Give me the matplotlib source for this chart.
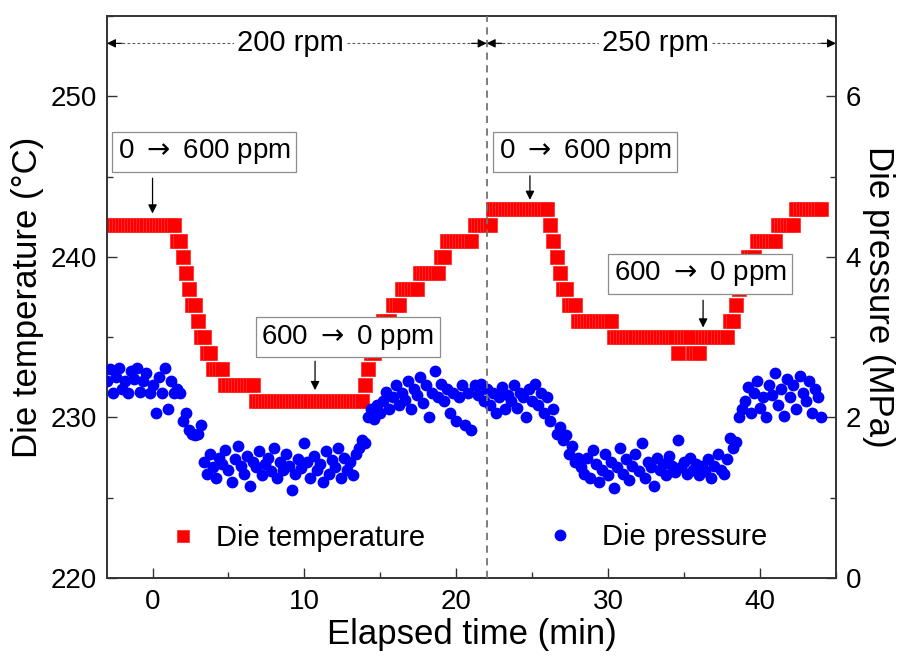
import matplotlib.pyplot as plt
import numpy as np
from matplotlib.ticker import MultipleLocator

plt.rcParams['font.family'] = ['Liberation Sans', 'DejaVu Sans']

# logger sampling time (min)
time_min = np.round(np.arange(-3.0, 44.01, 0.2), 1)

# die temperature, stored as plateaus: level (degC) and number of samples
temp_levels = [242, 241, 240, 239, 238, 237, 236, 235, 234, 233, 232, 231,
               232, 233, 234, 235, 236, 237, 238, 239, 240, 241, 242, 243,
               242, 241, 240, 239, 238, 237, 236, 235, 234, 235, 234, 235,
               236, 237, 238, 239, 240, 241, 242, 243]
temp_counts = [23, 2, 1, 1, 1, 2, 1, 2, 2, 4, 10, 36,
               1, 1, 2, 2, 3, 3, 6, 7, 2, 9, 6, 19,
               1, 1, 1, 1, 2, 3, 12, 21, 1, 4, 3, 9,
               2, 1, 1, 2, 3, 7, 6, 9]

# die pressure (MPa), one value per sample
pressure = [
    2.45, 2.60, 2.30, 2.50, 2.62, 2.35, 2.45, 2.30, 2.58, 2.48, 2.62, 2.32, 2.45, 2.55, 2.30, 2.40,
    2.05, 2.50, 2.30, 2.62, 2.10, 2.45, 2.30, 2.35, 2.30,
    1.95, 2.05, 1.85, 1.80, 1.78, 1.80, 1.90,
    1.45, 1.30, 1.55, 1.38, 1.25, 1.50, 1.42, 1.60, 1.35, 1.20,
    1.48, 1.65, 1.40, 1.30, 1.52, 1.15, 1.45, 1.38, 1.58, 1.28,
    1.42, 1.50, 1.33, 1.62, 1.25, 1.45, 1.35, 1.55, 1.40, 1.10,
    1.30, 1.48, 1.37, 1.68, 1.45, 1.25, 1.52, 1.35, 1.42, 1.20,
    1.58, 1.30, 1.47, 1.38, 1.62, 1.25, 1.50, 1.35, 1.44, 1.28,
    1.55, 1.62, 1.72, 1.68,
    2.00, 2.10, 1.98, 2.15, 2.05,
    2.20, 2.32, 2.10, 2.25, 2.40, 2.15, 2.30, 2.22, 2.45, 2.10,
    2.35, 2.28, 2.50, 2.18, 2.40, 2.00, 2.30, 2.58, 2.25, 2.42,
    2.20, 2.35, 2.05, 2.30, 1.95, 2.25, 2.40, 1.90, 2.30, 1.85,
    2.40, 2.28, 2.42, 2.20, 2.35, 2.15, 2.30, 2.05, 2.25, 2.38,
    2.10, 2.28, 2.20, 2.40, 2.12, 2.30, 2.25, 2.00, 2.35, 2.20,
    2.42, 2.15, 2.30, 2.05, 2.25,
    1.95, 2.10, 1.80, 1.88, 1.72, 1.78, 1.55, 1.65, 1.45, 1.50,
    1.38, 1.30, 1.50, 1.25, 1.60, 1.42, 1.20, 1.35, 1.55, 1.28,
    1.45, 1.12, 1.38, 1.62, 1.30, 1.48, 1.22, 1.40, 1.55, 1.33,
    1.68, 1.25, 1.45, 1.38, 1.15, 1.50, 1.35, 1.42, 1.28, 1.52,
    1.40, 1.32, 1.72, 1.38, 1.45, 1.30, 1.50, 1.35, 1.42, 1.28,
    1.40, 1.33, 1.48, 1.25, 1.40, 1.55, 1.35, 1.30, 1.48,
    1.75, 1.62, 1.70, 2.00, 2.10,
    2.20, 2.38, 2.05, 2.30, 2.45, 2.12, 2.25, 2.00, 2.40, 2.28,
    2.55, 2.15, 2.35, 2.02, 2.48, 2.25, 2.40, 2.10, 2.52, 2.30,
    2.20, 2.45, 2.05, 2.35, 2.25, 2.00,
]

rpm_change = 22.0
rpm_labels = ['200 rpm', '250 rpm']

temperature = np.repeat(temp_levels, temp_counts)

fig = plt.figure(figsize=(9.02, 6.57), dpi=100)
ax = fig.add_axes([0.1186, 0.1202, 0.8082, 0.8554])
ax2 = ax.twinx()

h1, = ax.plot(time_min, temperature, 's', color='red', ms=10, mec='#ff3030', mew=0.6,
              label='Die temperature', zorder=3)
h2, = ax2.plot(time_min, pressure, 'o', color='blue', ms=8.5, mec='blue', mew=0,
               label='Die pressure', zorder=3)

ax.set_xlim(-3, 45)
ax.set_ylim(220, 255)
ax2.set_ylim(0, 7)
ax.set_xticks([0, 10, 20, 30, 40])
ax.xaxis.set_minor_locator(MultipleLocator(5))
ax.set_yticks([220, 230, 240, 250])
ax.yaxis.set_minor_locator(MultipleLocator(5))
ax2.set_yticks([0, 2, 4, 6])
ax2.yaxis.set_minor_locator(MultipleLocator(1))

for a in (ax, ax2):
    a.tick_params(which='both', direction='in', labelsize=20, color='#333333', width=1.0, pad=7)
    a.tick_params(which='major', length=7)
    a.tick_params(which='minor', length=4)
    for s in a.spines.values():
        s.set_color('#333333')
        s.set_linewidth(1.2)
ax.tick_params(axis='x', pad=8)

ax.set_xlabel('Elapsed time (min)', fontsize=25, labelpad=2)
ax.set_ylabel('Die temperature (\u00b0C)', fontsize=25, labelpad=5)
ax2.set_ylabel('Die pressure (MPa)', fontsize=25, rotation=-90, labelpad=24)

# rpm change
ax2.axvline(rpm_change, color='0.45', ls=(0, (4, 3)), lw=1.3, zorder=5)

# rpm spans at the top
y_top = 253.3
spans = [(-3, rpm_change), (rpm_change, 45)]
for (x0, x1), lab in zip(spans, rpm_labels):
    ax.plot([x0, x1], [y_top, y_top], ls=(0, (2.5, 2)), lw=0.8, color='0.35', zorder=4)
    for xa, xb in ((x0 + 1.0, x0), (x1 - 1.0, x1)):
        ax.annotate('', xy=(xb, y_top), xytext=(xa, y_top),
                    arrowprops=dict(arrowstyle='-|>', color='black', lw=0.8,
                                    mutation_scale=13, shrinkA=0, shrinkB=0), zorder=5)
    ax.text((x0 + x1) / 2 - 0.4, y_top, lab, fontsize=21, ha='center', va='center', zorder=6,
            bbox=dict(boxstyle='square,pad=0.1', fc='white', ec='none'))

# ppm step annotations
box_style = dict(boxstyle='square,pad=0.2', fc='white', ec='0.55', lw=0.9)
notes = [
    (r'0 $\rightarrow$ 600 ppm', 3.4, 246.55, 0.0, 244.9, 242.7),
    (r'600 $\rightarrow$ 0 ppm', 12.85, 235.0, 10.7, 233.5, 231.7),
    (r'0 $\rightarrow$ 600 ppm', 28.5, 246.55, 24.85, 245.05, 243.55),
    (r'600 $\rightarrow$ 0 ppm', 36.05, 238.95, 36.25, 237.3, 235.6),
]
for txt, tx, ty, ax_x, y_start, y_tip in notes:
    ax.text(tx, ty, txt, fontsize=20, ha='center', va='center', zorder=6, bbox=box_style)
    ax.annotate('', xy=(ax_x, y_tip), xytext=(ax_x, y_start),
                arrowprops=dict(arrowstyle='-|>', color='black', lw=0.9,
                                mutation_scale=13, shrinkA=0, shrinkB=0), zorder=6)

leg1 = ax2.legend(handles=[h1], loc='center left', bbox_to_anchor=(0.0842, 0.0712),
                  frameon=False, fontsize=21, borderpad=0, borderaxespad=0,
                  handlelength=1.0, handletextpad=0.63, markerscale=0.9)
ax2.add_artist(leg1)
ax2.legend(handles=[h2], loc='center left', bbox_to_anchor=(0.6014, 0.0735),
           frameon=False, fontsize=21, borderpad=0, borderaxespad=0,
           handlelength=1.0, handletextpad=0.93, markerscale=1.0)

fig.savefig('out.png', dpi=100)
